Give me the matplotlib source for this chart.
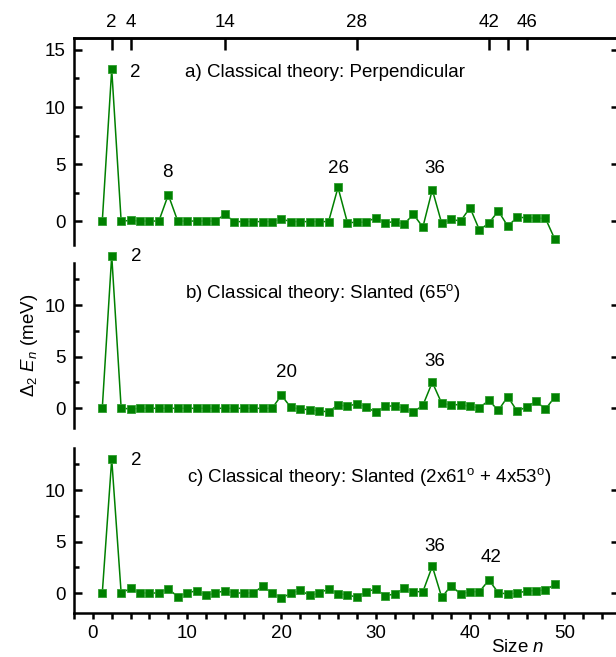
import numpy as np
import matplotlib
matplotlib.use('Agg')
import matplotlib.pyplot as plt
from matplotlib.ticker import MultipleLocator, FixedLocator

plt.rcParams['font.family'] = ['Liberation Sans', 'DejaVu Sans']
plt.rcParams['mathtext.fontset'] = 'custom'
plt.rcParams['mathtext.rm'] = 'Liberation Sans'
plt.rcParams['mathtext.it'] = 'Liberation Sans:italic'
plt.rcParams['mathtext.bf'] = 'Liberation Sans:bold'

# ---------------- data ----------------
sizes = np.arange(1, 50)

perpendicular = [0, 13.3, 0, 0.05, 0, 0, 0, 2.3, 0, 0,
                 0, 0, 0, 0.58, -0.05, -0.05, -0.05, -0.05, -0.05, 0.18,
                 -0.05, -0.05, -0.05, -0.05, -0.05, 2.95, -0.15, -0.1, -0.1, 0.3,
                 -0.15, -0.05, -0.26, 0.58, -0.53, 2.75, -0.2, 0.15, 0, 1.17,
                 -0.79, -0.18, 0.88, -0.44, 0.32, 0.3, 0.26, 0.23, -1.6]

slanted_65 = [0, 14.8, 0, -0.1, -0.03, -0.03, -0.03, -0.03, -0.03, -0.03,
              -0.03, -0.03, -0.03, -0.03, -0.03, -0.03, -0.03, -0.03, -0.03, 1.23,
              0.06, -0.1, -0.16, -0.3, -0.36, 0.3, 0.16, 0.42, 0.1, -0.42,
              0.16, 0.22, -0.03, -0.39, 0.26, 2.5, 0.45, 0.32, 0.32, 0.16,
              0.03, 0.74, -0.23, 1.1, -0.3, 0.1, 0.65, -0.1, 1.07]

slanted_mix = [0, 13.0, 0, 0.45, 0, 0, 0, 0.42, -0.36, 0,
               0.23, -0.23, 0, 0.23, 0, 0, 0, 0.65, 0, -0.49,
               -0.03, 0.26, -0.23, 0, 0.39, -0.06, -0.16, -0.42, 0.13, 0.39,
               -0.26, -0.1, 0.45, 0.13, 0.13, 2.6, -0.42, 0.71, -0.1, 0.13,
               0.13, 1.26, 0.03, -0.1, 0, 0.19, 0.23, 0.29, 0.84]

top_ticks = [2, 4, 14, 28, 42, 44, 46]
top_labels = ['2', '4', '14', '28', '42', '', '46']

titles = ['a) Classical theory: Perpendicular',
          'b) Classical theory: Slanted (65$^{\\rm o}$)',
          'c) Classical theory: Slanted (2x61$^{\\rm o}$ + 4x53$^{\\rm o}$)']
title_pos = [(9.75, 13.0), (9.75, 11.2), (9.95, 11.3)]

peak_labels = [
    [('2', 4.5, 13.0), ('8', 7.9, 4.3), ('26', 26.0, 4.65), ('36', 36.3, 4.65)],
    [('2', 4.55, 14.7), ('20', 20.5, 3.4), ('36', 36.3, 4.5)],
    [('2', 4.55, 12.9), ('36', 36.3, 4.5), ('42', 42.2, 3.4)],
]

series = [perpendicular, slanted_65, slanted_mix]
ylims = [(-2.1, 16.05), (-1.94, 14.08), (-1.94, 14.08)]
yticks_major = [[0, 5, 10, 15], [0, 5, 10], [0, 5, 10]]

# ---------------- layout ----------------
W, H = 616, 657
fig = plt.figure(figsize=(W / 100, H / 100), dpi=100)

left = 74 / W
width = (619 - 74) / W
boxes = [(38, 245), (263, 428), (448, 613)]

green = '#008000'
fs = 13.5
lw_sp = 1.8

axes = []
for i, (top_px, bot_px) in enumerate(boxes):
    ax = fig.add_axes([left, 1 - bot_px / H, width, (bot_px - top_px) / H])
    axes.append(ax)
    ax.plot(sizes, series[i], '-', color=green, lw=1.1, marker='s', ms=5.2,
            mfc=green, mec='#2f9f2f', mew=0.6, clip_on=False, zorder=3)
    ax.set_xlim(-2, 55.8)
    ax.set_ylim(*ylims[i])
    ax.set_facecolor('none')

    for s in ax.spines.values():
        s.set_linewidth(lw_sp)
    ax.spines['right'].set_visible(False)
    ax.spines['top'].set_visible(i == 0)
    ax.spines['bottom'].set_visible(i == 2)

    ax.yaxis.set_major_locator(FixedLocator(yticks_major[i]))
    ax.yaxis.set_minor_locator(MultipleLocator(2.5))
    ax.tick_params(axis='y', which='major', direction='in', length=6, width=lw_sp,
                   left=True, right=True, labelsize=fs, pad=6)
    ax.tick_params(axis='y', which='minor', direction='in', length=3.6, width=lw_sp,
                   left=True, right=False)

    if i == 2:
        ax.xaxis.set_major_locator(MultipleLocator(10))
        ax.xaxis.set_minor_locator(MultipleLocator(2))
        ax.tick_params(axis='x', which='both', direction='out', length=4.3, width=lw_sp,
                       bottom=True, top=False, labelsize=fs, pad=4)
        ax.set_xticks([0, 10, 20, 30, 40, 50])
    else:
        ax.tick_params(axis='x', which='both', bottom=False, top=False,
                       labelbottom=False)

    if i == 0:
        sec = ax.secondary_xaxis('top')
        sec.set_xticks(top_ticks, labels=top_labels)
        sec.tick_params(direction='in', length=8.6, width=lw_sp, labelsize=fs, pad=5)
        sec.spines['top'].set_linewidth(lw_sp)

    tx, ty = title_pos[i]
    ax.text(tx, ty, titles[i], fontsize=fs, ha='left', va='center')
    for lab, lx, ly in peak_labels[i]:
        ax.text(lx, ly, lab, fontsize=fs, ha='center', va='center')

fig.text(30 / W, 1 - 345 / H, r'$\mathit{\Delta}_2\ \mathit{E_n}$ (meV)',
         rotation=90, ha='center', va='center', fontsize=fs)
fig.text(518 / W, 1 - 648 / H, r'Size $\mathit{n}$', ha='center', va='center',
         fontsize=fs)

fig.savefig('out.png', dpi=100)
